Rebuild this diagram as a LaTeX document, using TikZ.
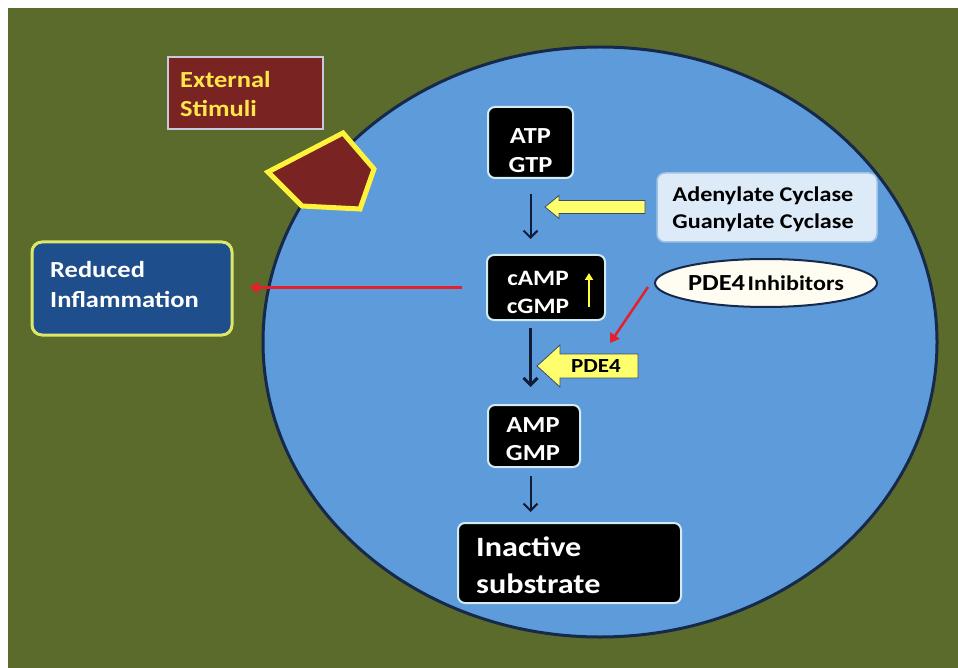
\documentclass[tikz,border=0pt]{standalone}
\usepackage{fontspec}
\setmainfont{Carlito}[FakeStretch=1.15]
\usetikzlibrary{arrows.meta,calc,shapes.geometric}
\definecolor{bggreen}{HTML}{5B6B2B}
\definecolor{cellblue}{HTML}{5E9BDB}
\definecolor{navy}{HTML}{16294A}
\definecolor{maroon}{HTML}{7A2323}
\definecolor{lavender}{HTML}{C9C9DD}
\definecolor{pentyellow}{HTML}{FFF23A}
\definecolor{exttext}{HTML}{FFE64A}
\definecolor{boxedge}{HTML}{D2ECF2}
\definecolor{redblue}{HTML}{1F4E8C}
\definecolor{redborder}{HTML}{DDE86A}
\definecolor{acfill}{HTML}{DDEBF9}
\definecolor{acedge}{HTML}{9FC2E6}
\definecolor{inhfill}{HTML}{FFFDF2}
\definecolor{redline}{HTML}{E3202C}
\definecolor{darkarrow}{HTML}{0F1D38}
\definecolor{yarrowfill}{HTML}{FFFF6E}
\definecolor{yarrowedge}{HTML}{3B4A66}
\definecolor{uparrow}{HTML}{FFFF40}
\begin{document}
\begin{tikzpicture}[x=1pt,y=-1pt,
  blackbox/.style={draw=boxedge, line width=2pt, fill=black, rounded corners=7pt, inner sep=0pt},
  wtext/.style={text=white, inner sep=0pt, align=center},
  darrow/.style={draw=darkarrow, line width=2pt, -{Straight Barb[length=7pt,width=14pt]}},
  redarrow/.style={draw=redline, line width=2.5pt, -{Triangle[length=9pt,width=11pt]}},
  yarrow/.style={fill=yarrowfill, draw=yarrowedge, line width=0.8pt, line join=miter},
]
\useasboundingbox (0,0) rectangle (958,668);
\fill[white] (0,0) rectangle (958,668);
\fill[bggreen] (8,8) rectangle (958,668);

% cell
\node[draw=navy, fill=cellblue, line width=3pt, ellipse, minimum width=674pt, minimum height=590pt, inner sep=0pt] (cell) at (600,342) {};

% external stimuli
\node[draw=lavender, fill=maroon, line width=2pt, minimum width=155pt, minimum height=72pt, inner sep=0pt] (extbox) at (245.5,93) {};
\node[text=exttext, inner sep=0pt, align=left, anchor=west, font=\fontsize{23}{29}\selectfont\bfseries] (ext) at (180,94) {External\\Stimuli};

% receptor pentagon
\draw[draw=pentyellow, fill=maroon, line width=5pt, line join=miter] (268,172) -- (343,133) -- (374,169) -- (360,209) -- (302,206) -- cycle;

% ATP / GTP
\node[blackbox, minimum width=85pt, minimum height=71pt] (atpbox) at (530.5,142.5) {};
\node[wtext, font=\fontsize{23}{29}\selectfont\bfseries] (atp) at (530.5,150.5) {ATP\\GTP};

% cAMP / cGMP
\node[blackbox, minimum width=118pt, minimum height=65pt] (campbox) at (546,287.5) {};
\node[wtext, font=\fontsize{22}{28}\selectfont\bfseries] (camp) at (538,292.5) {cAMP\\cGMP};
\draw[draw=uparrow, line width=2pt, -{Triangle[length=7pt,width=8pt]}] ($(campbox.center)+(43,19.5)$) -- ($(campbox.center)+(43,-14.5)$);

% AMP / GMP
\node[blackbox, minimum width=92pt, minimum height=62pt] (ampbox) at (534,436) {};
\node[wtext, font=\fontsize{23}{28}\selectfont\bfseries] (amp) at (533,439) {AMP\\GMP};

% Inactive substrate
\node[blackbox, minimum width=223pt, minimum height=80pt] (inactbox) at (569.5,563) {};
\node[text=white, inner sep=0pt, align=left, anchor=west, font=\fontsize{28}{37}\selectfont\bfseries] (inact) at (476,565) {Inactive\\substrate};

% Reduced inflammation
\node[draw=redborder, fill=redblue, line width=3pt, rounded corners=10pt, minimum width=200pt, minimum height=93pt, inner sep=0pt] (reduced) at (132,288.5) {};
\node[text=white, inner sep=0pt, align=left, anchor=west, font=\fontsize{23}{30}\selectfont\bfseries] (redtext) at (50,284.5) {Reduced\\Inflammation};

% Adenylate / Guanylate cyclase
\node[draw=acedge, fill=acfill, line width=1.5pt, rounded corners=8pt, minimum width=220pt, minimum height=69pt, inner sep=0pt] (acbox) at (767,207.5) {};
\node[text=black, inner sep=0pt, align=center, font=\fontsize{21}{27}\selectfont\bfseries] (ac) at (763,209) {Adenylate Cyclase\\Guanylate Cyclase};

% PDE4 inhibitors
\node[ellipse, draw=navy, fill=inhfill, line width=2pt, minimum width=222pt, minimum height=48pt, inner sep=0pt, font=\bfseries] (inh) at (766,283) {{\fontsize{23}{23}\selectfont PDE4} {\fontsize{21}{21}\selectfont Inhibitors}};

% yellow block arrows
\draw[yarrow] (545,207) -- (559,195.5) -- (559,200.5) -- (645,200.5) -- (645,213.5) -- (559,213.5) -- (559,218.5) -- cycle;
\draw[yarrow] (537,366) -- (560,345) -- (560,354) -- (638,354) -- (638,378) -- (560,378) -- (560,387) -- cycle;
\node[inner sep=0pt, font=\fontsize{20}{20}\selectfont\bfseries] (pde4) at (596,366) {PDE4};

% pathway arrows
\draw[darrow, shorten <=15pt, shorten >=15pt] (atpbox.south) -- (atpbox.south |- campbox.north);
\draw[darrow, line width=3pt, shorten <=7pt, shorten >=17pt] (atpbox.south |- campbox.south) -- (atpbox.south |- ampbox.north);
\draw[darrow, shorten <=8pt, shorten >=10pt] (atpbox.south |- ampbox.south) -- (atpbox.south |- inactbox.north);

% red arrows
\draw[redarrow, shorten <=24pt, shorten >=16pt] (campbox.west) -- (campbox.west -| reduced.east);
\coordinate (pdetop) at (610,343);
\draw[redarrow] ($(inh.west)+(-6,4)$) -- (pdetop);
\end{tikzpicture}
\end{document}
